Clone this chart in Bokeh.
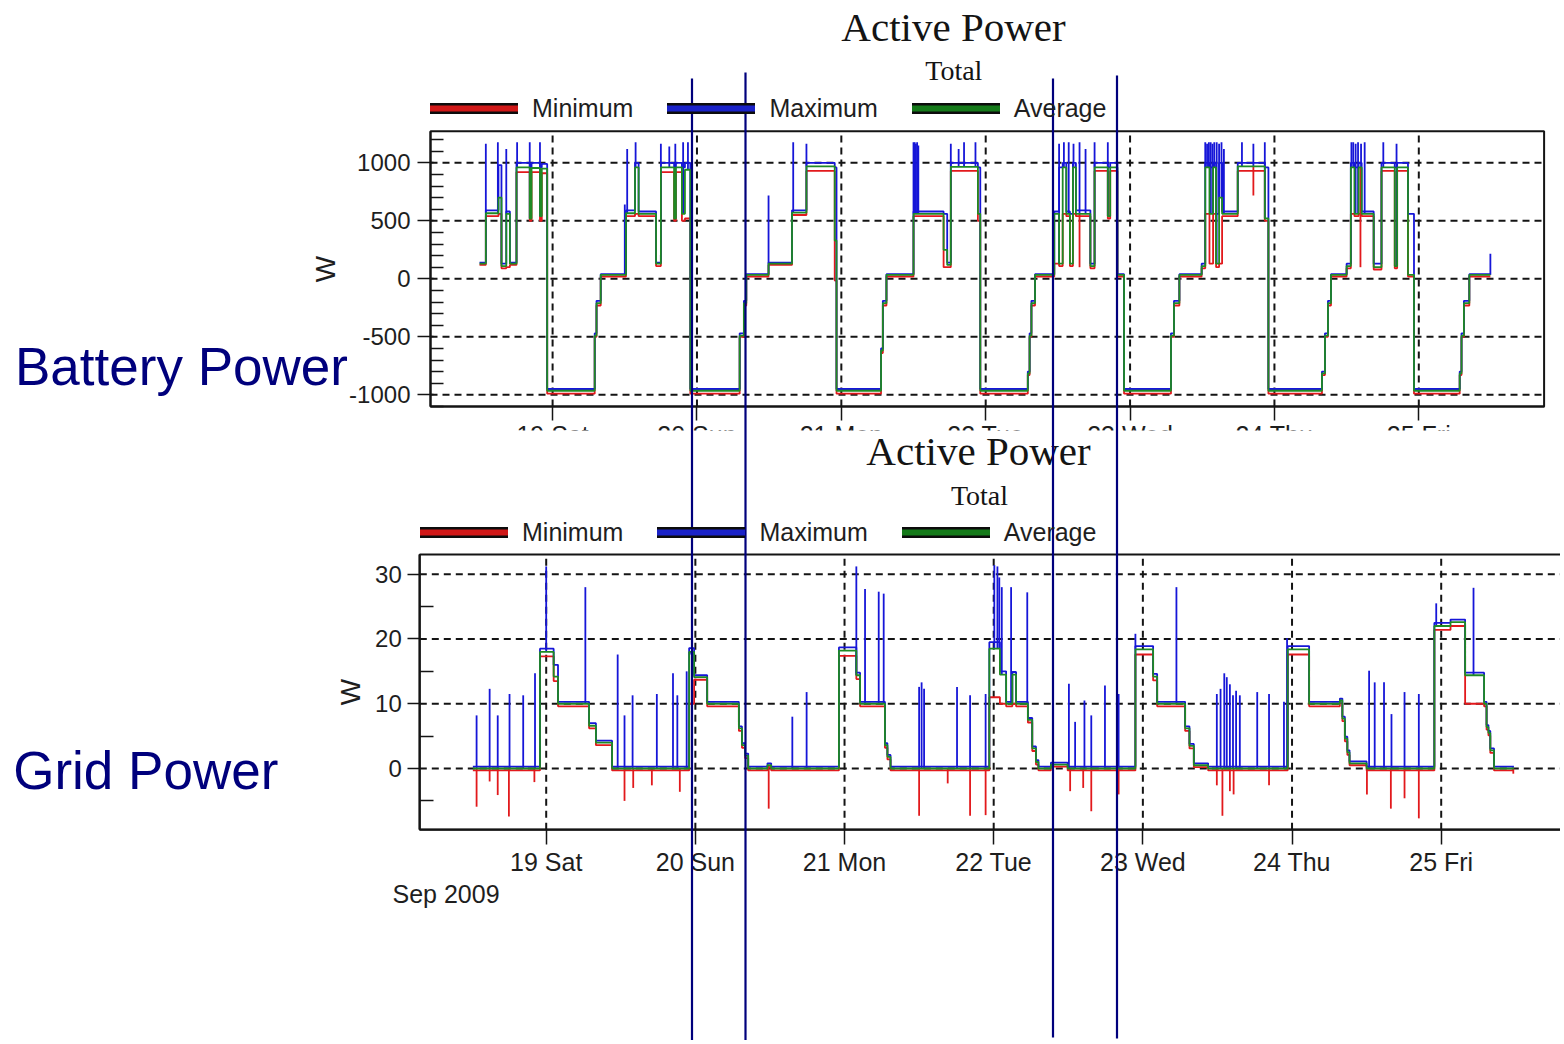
import numpy as np
from bokeh.plotting import figure
from bokeh.models import (Range1d, FixedTicker, Legend, LegendItem, Label,
                          BoxAnnotation, LinearAxis)
from bokeh.embed import file_html
from bokeh.resources import INLINE

# ---------------- data (time in hours since 18 Sep 2009 00:00) ----------------
day_ticks = [24, 48, 72, 96, 120, 144, 168]
day_labels = ["19 Sat", "20 Sun", "21 Mon", "22 Tue", "23 Wed", "24 Thu", "25 Fri"]
legend_names = ["Minimum", "Maximum", "Average"]

bat_yticks = [-1000, -500, 0, 500, 1000]
bat_ylabels = ["-1000", "-500", "0", "500", "1000"]
bat_yminor = [-1100, -900, -800, -700, -600, -400, -300, -200, -100,
              100, 200, 300, 400, 600, 700, 800, 900, 1100, 1200]
grid_yticks = [0, 10, 20, 30]
grid_ylabels = ["0", "10", "20", "30"]
grid_yminor = [-5, 5, 15, 25]

# Battery power: step breakpoints and per-step average / minimum / maximum (W)
bat_t = [11.85, 12.9, 15.0, 15.5, 16.3, 16.9, 18.0, 20.2, 20.5, 21.9, 22.2, 23.1,
         31.0, 31.3, 32.0, 36.2, 37.7, 38.3, 41.2, 42.0, 44.2, 44.5, 45.5, 46.0, 46.9,
         55.1, 55.8, 56.2, 59.9, 63.8, 66.2, 70.9, 71.2,
         78.6, 78.9, 79.5, 84.0, 89.0, 89.6, 90.2, 94.7, 95.1,
         103.0, 103.3, 103.6, 104.2, 107.4, 108.2, 108.8, 109.4, 110.0, 110.5, 111.0, 113.4,
         114.1, 116.3, 116.7, 117.9, 119.0,
         126.8, 127.3, 128.2, 131.9, 132.5, 133.2, 133.8, 134.3, 134.8, 135.3, 137.9, 142.4, 143.0,
         151.9, 152.4, 152.9, 153.4, 156.0, 156.7, 157.3, 158.0, 158.5, 160.5, 161.8, 164.0,
         164.4, 166.2, 167.2,
         174.8, 175.1, 175.5, 176.4, 179.9]
bat_avg = [130, 565, 700, 110, 560, 130, 960, 520, 955, 540, 950, -965,
           -490, -210, 34, 565, 960, 560, 130, 960, 520, 960, 560, 940, -965,
           -490, -210, 34, 130, 570, 970, 330, -965,
           -618, -210, 34, 560, 250, 120, 965, 560, -965,
           -816, -490, -210, 34, 560, 130, 960, 560, 130, 960, 560, 110, 960, 540, 960, 34, -965,
           -490, -210, 34, 110, 960, 560, 960, 130, 700, 560, 970, 520, -965,
           -816, -490, -210, 34, 110, 960, 560, 960, 560, 100, 960, 110, 960, 34, -965,
           -816, -490, -210, 34]
bat_min = [120, 540, 560, 90, 100, 120, 920, 500, 920, 500, 910, -990,
           -500, -230, 20, 540, 560, 540, 110, 920, 500, 920, 500, 520, -990,
           -500, -230, 20, 120, 550, 930, -15, -990,
           -640, -230, 20, 540, 100, 100, 930, 500, -990,
           -830, -500, -230, 20, 130, 110, 560, 540, 110, 560, 540, 90, 930, 520, 930, 20, -990,
           -500, -230, 20, 90, 560, 130, 560, 100, 130, 540, 930, 500, -990,
           -830, -500, -230, 20, 90, 560, 540, 560, 540, 80, 930, 90, 930, 20, -990,
           -830, -500, -230, 20]
bat_max = [140, 590, 980, 130, 580, 140, 1000, 960, 1000, 960, 990, -950,
           -470, -190, 40, 590, 1000, 580, 140, 1000, 960, 1000, 960, 1000, -950,
           -470, -190, 40, 140, 590, 1000, 960, -950,
           -600, -190, 40, 580, 560, 140, 1000, 960, -950,
           -800, -470, -190, 40, 580, 960, 1000, 580, 560, 1000, 590, 130, 1000, 960, 1000, 40, -950,
           -470, -190, 40, 130, 1000, 960, 1000, 560, 1000, 580, 1000, 960, -950,
           -800, -470, -190, 40, 130, 1000, 960, 1000, 580, 130, 1000, 960, 1000, 560, -950,
           -800, -470, -190, 40]
bat_spike_t = [12.9, 14.9, 16.3, 18.1, 20.2, 21.9,
               36.0, 36.4, 37.8, 42.0, 43.4, 44.4, 45.7, 46.5,
               59.9, 64.0, 66.2,
               84.0, 84.2, 84.4, 84.6, 84.8, 90.2, 91.5, 92.4, 94.3,
               108.2, 109.0, 109.8, 110.6, 111.6, 112.6, 114.1, 116.3,
               132.5, 132.8, 133.1, 133.4, 133.7, 134.0, 134.4, 134.8, 135.2, 135.6, 138.6, 140.5, 142.4,
               156.8, 157.1, 157.5, 157.9, 158.4, 159.0, 162.1, 164.3,
               179.9]
bat_spike_v = [1164, 1178, 1120, 1178, 1178, 1178,
               640, 1120, 1178, 1164, 1140, 1164, 1178, 1178,
               718, 1178, 1164,
               1178, 1178, 1164, 1178, 1150, 1164, 1120, 1178, 1178,
               1164, 1178, 1178, 1164, 1178, 1120, 1178, 1178,
               1178, 1164, 1178, 1178, 1164, 1178, 1178, 1164, 1178, 1120, 1178, 1164, 1178,
               1178, 1178, 1164, 1178, 1164, 1178, 1178, 1164,
               215]
bat_dip_t = [111.6, 140.5, 158.3]
bat_dip_v = [100, 718, 100]

# Grid power
grid_t = [12.2, 23.0, 25.2, 25.9, 30.9, 32.0, 34.6,
          47.0, 47.8, 49.9, 55.0, 55.5, 56.0, 56.5, 59.6, 60.2,
          71.1, 73.9, 74.5, 78.5, 78.9, 79.4,
          95.3, 97.0, 98.0, 99.0, 99.6, 101.5, 102.2, 102.8, 103.2, 105.2, 107.9,
          118.8, 121.65, 122.3, 126.8, 127.5, 128.2, 130.5,
          143.3, 146.75, 151.7, 152.1, 152.5, 152.9, 153.25, 156.0,
          166.9, 169.5, 171.85, 174.9, 175.3, 175.6, 175.9, 176.5, 179.7]
grid_avg = [0, 18.0, 14.2, 10.0, 6.6, 4.0, 0,
            18.0, 14.1, 10.0, 6.2, 3.6, 2.0, 0, 0.5, 0,
            18.2, 14.4, 10.0, 3.6, 1.8, 0,
            18.5, 14.5, 10.0, 14.5, 10.0, 7.5, 3.1, 1.0, 0, 0.6, 0,
            18.4, 14.2, 10.0, 6.2, 3.5, 0.5, 0,
            18.4, 10.0, 10.5, 7.7, 4.6, 2.5, 0.8, 0,
            22.0, 22.6, 14.4, 10.0, 6.4, 5.5, 2.8, 0]
grid_min = [-0.3, 17.3, 13.5, 9.6, 6.2, 3.6, -0.3,
            10.0, 13.7, 9.6, 5.8, 3.2, 1.6, -0.3, 0.2, -0.3,
            17.4, 13.8, 9.6, 3.2, 1.4, -0.3,
            11.0, 10.0, 9.6, 10.0, 9.6, 7.1, 2.7, 0.6, -0.3, 0.3, -0.3,
            17.6, 13.6, 9.6, 5.8, 3.1, 0.2, -0.3,
            17.6, 9.6, 10.1, 7.3, 4.2, 2.1, 0.5, -0.3,
            21.4, 22.0, 10.0, 9.6, 6.0, 5.1, 2.4, -0.3]
grid_max = [0.3, 18.5, 16.0, 10.3, 7.0, 4.3, 0.3,
            18.6, 14.4, 10.3, 6.5, 3.9, 2.3, 0.3, 0.8, 0.3,
            18.7, 14.8, 10.3, 3.9, 2.1, 0.3,
            19.5, 15.0, 10.3, 14.9, 10.3, 7.8, 3.4, 1.3, 0.3, 0.9, 0.3,
            18.9, 14.6, 10.3, 6.5, 3.8, 0.8, 0.3,
            18.9, 10.3, 10.8, 8.0, 4.9, 2.8, 1.1, 0.3,
            22.5, 23.0, 14.8, 10.3, 6.7, 5.8, 3.1, 0.3]
grid_spike_t = [12.8, 14.9, 16.2, 18.1, 20.3, 22.2, 24.0,
                30.3, 35.5, 36.6, 37.9, 41.8, 44.4, 45.1, 46.6, 47.1,
                63.6, 65.9, 73.9, 75.3, 77.5, 78.3,
                84.0, 84.4, 84.8, 90.1, 92.2, 94.7,
                96.1, 96.6, 96.9, 97.3, 98.8, 101.4,
                108.1, 109.1, 110.6, 111.7, 113.9, 116.1, 118.8, 125.4,
                131.9, 132.5, 133.1, 133.5, 134.0, 134.5, 135.0, 135.6, 138.4, 140.3, 142.7, 143.2,
                156.4, 157.3, 158.8, 160.0, 162.1, 164.4, 167.2, 173.2]
grid_spike_v = [8.2, 12.3, 8.2, 11.5, 11.3, 14.7, 31.2,
                28.0, 17.6, 8.2, 11.3, 11.5, 14.7, 11.3, 15.0, 17.6,
                8.0, 11.8, 31.2, 27.7, 27.3, 27.0,
                12.6, 13.3, 12.3, 12.6, 11.3, 11.5,
                31.4, 31.2, 29.5, 28.0, 28.0, 27.2,
                13.1, 7.2, 10.5, 8.2, 12.8, 11.5, 20.8, 28.0,
                11.5, 12.3, 14.7, 14.1, 13.0, 11.3, 12.0, 11.3, 11.8, 11.5, 10.3, 20.1,
                15.1, 13.3, 13.3, 8.4, 11.8, 11.5, 25.5, 27.9]
grid_dip_t = [12.8, 14.9, 16.2, 18.0, 22.1,
              36.6, 38.0, 41.0, 45.5, 59.8,
              84.0, 88.6, 92.2, 94.7,
              108.3, 110.4, 111.7, 116.1,
              131.9, 132.8, 134.0, 134.6, 140.3,
              156.05, 159.9, 162.1, 164.4, 179.6]
grid_dip_v = [-5.9, -2.0, -4.1, -7.4, -2.1,
              -5.0, -3.0, -2.6, -3.6, -6.2,
              -7.3, -2.3, -7.3, -7.2,
              -3.5, -3.0, -6.6, -4.0,
              -2.6, -7.3, -3.5, -4.0, -2.6,
              -4.0, -6.2, -4.6, -7.7, -0.8]

# ---------------- style ----------------
RED, BLUE, GREEN = "#e2191c", "#1616d8", "#1f8a24"
RED_L, BLUE_L, GREEN_L = "#d01818", "#1a22c8", "#157a1a"
NAVY = "#00007c"
TXT = "#1e1e1e"
INK = "#141414"
SANS = "Liberation Sans"
SERIF = "Liberation Serif"
LW = 1.8

W, H = 1560, 1040


# page-pixel calibration of each chart's scales
def lin(d0, p0, d1, p1):
    s = (d1 - d0) / (p1 - p0)
    return lambda px: d0 + (px - p0) * s


bx = lin(24, 552.1, 168, 1418.3)      # battery chart: hours -> page x
by = lin(1000, 162.3, -1000, 394.3)   # battery chart: watts -> page y
gx = lin(24, 545.7, 168, 1440.7)      # grid chart: hours -> page x
gy = lin(30, 573.7, 0, 768.0)         # grid chart: watts -> page y

BAT_BOX = (bx(430), bx(1543.6), by(406), by(130.7))
GRD_BOX = (gx(419.3), gx(W + 40), gy(829.3), gy(554))

p = figure(width=W, height=H, x_range=Range1d(bx(0), bx(W)),
           y_range=Range1d(by(H), by(0)), output_backend="svg",
           toolbar_location=None, x_axis_location=None, y_axis_location=None,
           min_border=0)
p.extra_x_ranges = {"gx": Range1d(gx(0), gx(W))}
p.extra_y_ranges = {"gy": Range1d(gy(H), gy(0))}
p.grid.visible = False
p.outline_line_color = None
p.background_fill_color = "white"
p.border_fill_color = "white"


def level_at(tb, vals, ts):
    idx = np.searchsorted(np.asarray(tb, float), np.asarray(ts, float), side="right") - 1
    idx = np.clip(idx, 0, len(vals) - 1)
    return np.asarray(vals, dtype=float)[idx]


def draw_chart(xr, yr, box, yticks, ylabels, yminor, tb, vmin, vmax, vavg,
               sp_t, sp_v, dp_t, dp_v, ax_cfg):
    kw = dict(x_range_name=xr, y_range_name=yr)
    x0, x1, y0, y1 = box
    # dashed grid
    n = len(day_ticks)
    p.segment(x0=day_ticks, y0=[y0] * n, x1=day_ticks, y1=[y1] * n,
              line_color=INK, line_width=2, line_dash="7 5", **kw)
    m = len(yticks)
    p.segment(x0=[x0] * m, y0=yticks, x1=[x1] * m, y1=yticks,
              line_color=INK, line_width=2, line_dash="7 5", **kw)
    # series
    xs = list(tb)
    p.step(xs, list(vmin) + [vmin[-1]], mode="after", line_color=RED, line_width=LW, **kw)
    p.step(xs, list(vmax) + [vmax[-1]], mode="after", line_color=BLUE, line_width=LW, **kw)
    p.segment(x0=sp_t, y0=level_at(tb, vavg, sp_t), x1=sp_t, y1=sp_v,
              line_color=BLUE, line_width=LW, **kw)
    p.segment(x0=dp_t, y0=level_at(tb, vavg, dp_t), x1=dp_t, y1=dp_v,
              line_color=RED, line_width=LW, **kw)
    p.step(xs, list(vavg) + [vavg[-1]], mode="after", line_color=GREEN, line_width=LW, **kw)
    # frame box
    p.quad(left=[x0], right=[x1], bottom=[y0], top=[y1], fill_color=None,
           line_color=INK, line_width=2, **kw)
    # axes
    ya = LinearAxis(x_range_name=xr, y_range_name=yr, fixed_location=x0, bounds=(y0, y1),
                    ticker=FixedTicker(ticks=yticks, minor_ticks=yminor),
                    major_label_overrides={t: l for t, l in zip(yticks, ylabels)},
                    major_tick_out=ax_cfg["y_out"], major_tick_in=ax_cfg["y_in"],
                    minor_tick_in=ax_cfg["minor_in"], minor_tick_out=0,
                    major_label_standoff=ax_cfg["y_std"],
                    major_label_text_font=SANS, major_label_text_font_size="24px",
                    major_label_text_color=TXT,
                    axis_label="W", axis_label_text_font=SANS,
                    axis_label_text_font_size="28px", axis_label_text_font_style="normal",
                    axis_label_text_color=TXT, axis_label_standoff=ax_cfg["lab_std"],
                    axis_line_color=INK, axis_line_width=2,
                    major_tick_line_color=INK, major_tick_line_width=1.5,
                    minor_tick_line_color=INK, minor_tick_line_width=1.5)
    p.add_layout(ya, "left")
    xa = LinearAxis(x_range_name=xr, y_range_name=yr, fixed_location=y0, bounds=(x0, x1),
                    ticker=FixedTicker(ticks=day_ticks),
                    major_label_overrides={t: l for t, l in zip(day_ticks, day_labels)},
                    major_tick_out=ax_cfg["x_out"], major_tick_in=0,
                    minor_tick_line_color=None, major_label_standoff=ax_cfg["x_std"],
                    major_label_text_font=SANS, major_label_text_font_size="25px",
                    major_label_text_color=TXT,
                    axis_line_color=INK, axis_line_width=2,
                    major_tick_line_color=INK, major_tick_line_width=1.5)
    p.add_layout(xa, "below")


draw_chart("default", "default", BAT_BOX, bat_yticks, bat_ylabels, bat_yminor,
           bat_t, bat_min, bat_max, bat_avg, bat_spike_t, bat_spike_v, bat_dip_t, bat_dip_v,
           dict(y_out=13, y_in=3, minor_in=13, y_std=7, lab_std=5, x_out=14, x_std=0))
draw_chart("gx", "gy", GRD_BOX, grid_yticks, grid_ylabels, grid_yminor,
           grid_t, grid_min, grid_max, grid_avg, grid_spike_t, grid_spike_v,
           grid_dip_t, grid_dip_v,
           dict(y_out=12, y_in=0, minor_in=14, y_std=6, lab_std=6, x_out=15, x_std=3))

# the lower chart overlaps the upper chart's day labels
p.add_layout(BoxAnnotation(left=bx(380), right=bx(W + 10), top=by(430), bottom=by(458),
                           fill_color="white", fill_alpha=1.0, line_color=None))

# legend swatches (thick outlined bars); the renderers hold a single blank point
legend_renderers = []
for col in [RED_L, BLUE_L, GREEN_L]:
    k = p.line([np.nan], [np.nan], line_color="#0c0c0c", line_width=11, line_cap="round")
    c = p.line([np.nan], [np.nan], line_color=col, line_width=6, line_cap="round")
    legend_renderers.append([k, c])


def add_legend(x_left, y_bottom):
    items = [LegendItem(label=n, renderers=r) for n, r in zip(legend_names, legend_renderers)]
    p.add_layout(Legend(items=items, orientation="horizontal", location=(x_left, H - y_bottom),
                        glyph_width=88, glyph_height=30, label_height=30, label_standoff=14,
                        spacing=34, padding=0, margin=0, border_line_color=None,
                        background_fill_alpha=0, label_text_font=SANS,
                        label_text_font_size="25px", label_text_color=TXT))


add_legend(430, 123)
add_legend(420, 547)


def add_text(px, baseline, text, font, size_px, color, align="left"):
    # the label's anchor sits about 0.37 em above its baseline
    py = baseline - 0.37 * size_px
    p.add_layout(Label(x=bx(px), y=by(py), text=text, text_font=font,
                       text_font_size=f"{size_px}px", text_color=color,
                       text_align=align, text_baseline="alphabetic"))


add_text(953, 42, "Active Power", SERIF, 41, INK, "center")
add_text(953.3, 80, "Total", SERIF, 28, INK, "center")
add_text(978, 466, "Active Power", SERIF, 41, INK, "center")
add_text(979, 505, "Total", SERIF, 28, INK, "center")
add_text(14.5, 386, "Battery Power", SANS, 53, NAVY)
add_text(12.7, 790, "Grid Power", SANS, 53, NAVY)
add_text(392, 903, "Sep 2009", SANS, 25, TXT)

# hand-drawn vertical marker lines over the whole picture (page x, top y, bottom y)
nav_x = [691.5, 745.0, 1052.5, 1116.5]
nav_top = [78, 72, 78, 75]
nav_bottom = [1044, 1040, 1037, 1038]
for x, yt, yb in zip(nav_x, nav_top, nav_bottom):
    p.add_layout(BoxAnnotation(left=bx(x - 1.1), right=bx(x + 1.1), top=by(yt), bottom=by(yb),
                               fill_color=NAVY, fill_alpha=1.0, line_color=None))

open("out.html", "w").write(file_html(p, INLINE))
